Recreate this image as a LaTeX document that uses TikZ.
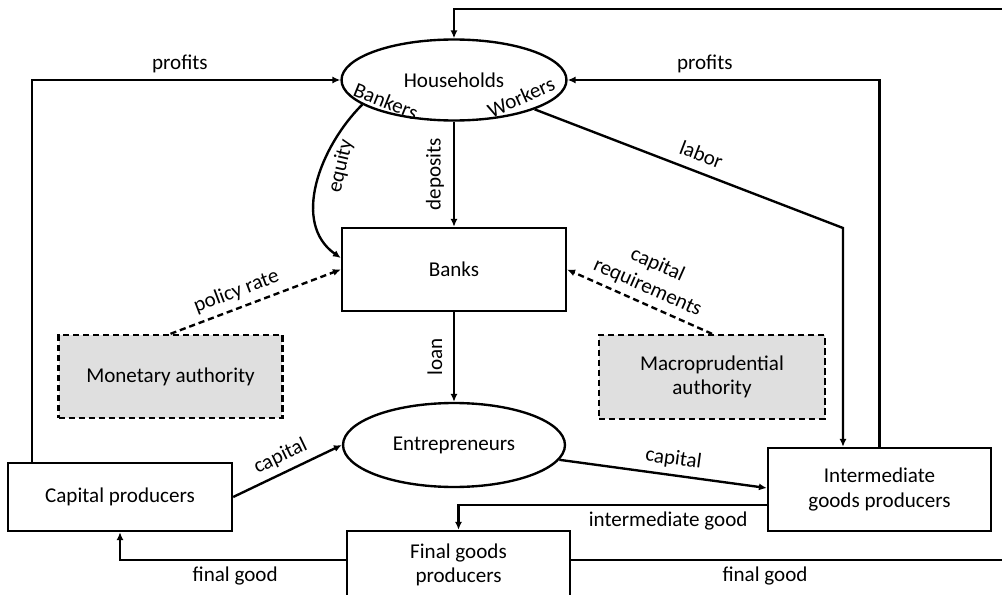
\documentclass[tikz,border=0pt]{standalone}
\usepackage{fontspec}
\setmainfont{Carlito}
\usepackage{tikz}
\usetikzlibrary{arrows.meta}
\usetikzlibrary{shapes.geometric}

\begin{document}
\begin{tikzpicture}[x=0.02cm, y=-0.02cm, line width=1.35pt,
        every node/.style={font=\fontsize{12}{14}\selectfont},
        box/.style={rectangle, draw, minimum width=4.48cm, minimum height=1.66cm, align=center},
        authority/.style={box, fill=gray!25, dash pattern=on 3.5pt off 2.2pt},
        oval/.style={ellipse, draw, minimum width=4.48cm, minimum height=1.66cm},
        flow/.style={-{Latex[length=4.5pt, width=4pt]}},
        policy/.style={flow, dash pattern=on 3.5pt off 2.2pt}]
        \useasboundingbox (0,0) rectangle (1002,595);
        \clip (0,0) rectangle (1002,595);

        % Nodes
        \node[oval, minimum width=4.5cm, minimum height=1.62cm] (hh) at (454,80) {Households};
        \node[rotate=-22] (bk) at (386,101) {Bankers};
        \node[rotate=24] (wk) at (521,97) {Workers};
        \node[box] (banks) at (454,269.5) {Banks};
        \node[authority] (mon) at (170.5,376.5) {Monetary authority};
        \node[authority, minimum width=4.52cm, minimum height=1.68cm] (macro) at (712,377) {Macroprudential\\authority};
        \node[oval, minimum width=4.44cm, minimum height=1.68cm] (ent) at (454,445) {Entrepreneurs};
        \node[box, minimum height=1.36cm] (cp) at (120,497) {Capital producers};
        \node[box, minimum width=4.46cm] (igp) at (879.5,489.5) {Intermediate\\goods producers};
        \node[box, minimum width=4.46cm, minimum height=1.36cm] (fgp) at (458.5,565) {Final goods\\producers};
        \node[rotate=77] (eq) at (341,166) {equity};

        % Loose ends
        \coordinate (topright) at (1002,9);
        \coordinate (botright) at (1002,560);
        \coordinate (lb) at (843,228);

        % Lines
        \draw[flow] (topright) -| (hh.north);
        \draw[flow] ([xshift=0.5cm]cp.north west) |- node[pos=0.74, above] (p1) {profits} (hh.west);
        \draw[flow] (igp.north) |- node[pos=0.78, above] (p2) {profits} (hh.east);
        \draw[flow] (hh.-20) -- node[pos=0.52, sloped, above=2pt] (lab) {labor} (lb) -- (lb |- igp.north);
        \draw[flow] (hh.south) -- node[midway, xshift=-0.38cm, rotate=90] (dep) {deposits} (banks.north);
        \draw[flow] (hh.195) to[out=225, in=145] ([yshift=0.23cm]banks.west);
        \draw[policy] (mon.north) -- node[pos=0.42, sloped, above] (pr) {policy rate} (banks.west);
        \draw[policy] (macro.north) -- node[pos=0.49, sloped, above, align=center] (cr) {capital\\requirements} (banks.east);
        \draw[flow] (banks.south) -- node[midway, xshift=-0.38cm, rotate=90] (ln) {loan} (ent.north);
        \draw[flow] (cp.east) -- node[pos=0.5, sloped, above] (c1) {capital} (ent.west);
        \draw[flow] (ent.-8) -- node[pos=0.54, sloped, above] (c2) {capital} (igp.west |- 0,488);
        \draw[flow] (igp.west |- 0,505) -| node[pos=0.16, below] (ig) {intermediate good} (fgp.north);
        \draw[flow] (fgp.west |- 0,560) -| node[pos=0.245, below] (fg1) {final good} (cp.south);
        \draw (fgp.east |- 0,560) -- node[pos=0.45, below] (fg2) {final good} (botright);
    \end{tikzpicture}
\end{document}
